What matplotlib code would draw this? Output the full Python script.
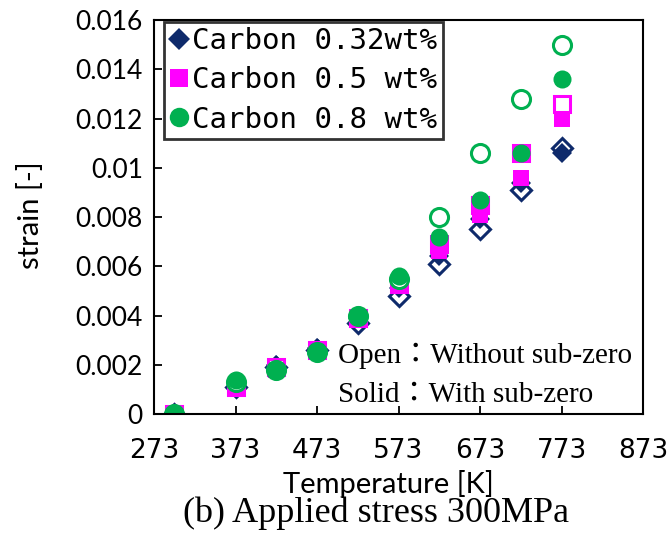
import numpy as np
import matplotlib.pyplot as plt
from matplotlib.lines import Line2D

temps = [298, 373, 423, 473, 523, 573, 623, 673, 723, 773]

# strain [-], open = without sub-zero, solid = with sub-zero
c032_open = [0, 0.0011, 0.0019, 0.0026, 0.0037, 0.0048, 0.0061, 0.0075, 0.0091, 0.0108]
c032_solid = [0, 0.0011, 0.0020, 0.0027, 0.0039, 0.0051, 0.0064, 0.0079, 0.0094, 0.0106]
c05_open = [0, 0.0011, 0.0019, 0.0026, 0.0039, 0.0053, 0.0069, 0.0085, 0.0106, 0.0126]
c05_solid = [0, 0.0011, 0.0018, 0.0026, 0.0038, 0.0052, 0.0066, 0.0081, 0.0096, 0.0120]
c08_open = [0, 0.0013, 0.0018, 0.0025, 0.0040, 0.0055, 0.0080, 0.0106, 0.0128, 0.0150]
c08_solid = [0, 0.0014, 0.0018, 0.0025, 0.0040, 0.0056, 0.0072, 0.0087, 0.0106, 0.0136]

labels = ['Carbon 0.32wt%', 'Carbon 0.5 wt%', 'Carbon 0.8 wt%']
xticks = [273, 373, 473, 573, 673, 773, 873]
yticks = [0, 0.002, 0.004, 0.006, 0.008, 0.01, 0.012, 0.014, 0.016]

navy = '#0E2A6B'
magenta = '#FF00FF'
green = '#00B050'

fig = plt.figure(figsize=(6.67, 5.36), dpi=100)
ax = fig.add_axes([0.231, 0.2276, 0.733, 0.735])

series = [
    (c032_open, c032_solid, 'D', 10, navy),
    (c05_open, c05_solid, 's', 11.5, magenta),
    (c08_open, c08_solid, 'o', 13, green),
]
for op, so, mk, ms, col in series:
    ax.plot(temps, op, ls='none', marker=mk, ms=ms, mfc='white', mec=col, mew=2.2)
    ax.plot(temps, so, ls='none', marker=mk, ms=ms, mfc=col, mec=col, mew=0)

ax.set_xlim(273, 873)
ax.set_ylim(0, 0.016)
ax.set_xticks(xticks)
ax.set_yticks(yticks)
ax.set_yticklabels(['%g' % v for v in yticks], family='Lato', fontsize=19)
ax.set_xticklabels([str(v) for v in xticks],
                   family=['Liberation Sans Narrow', 'DejaVu Sans'], fontsize=19)
ax.tick_params(direction='in', length=6, width=1.3)
ax.tick_params(axis='x', pad=17)
ax.tick_params(axis='y', pad=8)
for sp in ax.spines.values():
    sp.set_linewidth(1.5)

ax.set_ylabel('strain [-]', family='Lato', fontsize=21)
ax.yaxis.set_label_coords(-0.226, 0.505)

fig.text(0.582, 0.080, 'Temperature [K]', ha='center', va='baseline',
         family='Lato', fontsize=21)

handles = [
    Line2D([], [], ls='none', marker='D', ms=11, mfc=navy, mec=navy, mew=0),
    Line2D([], [], ls='none', marker='s', ms=13, mfc=magenta, mec=magenta, mew=0),
    Line2D([], [], ls='none', marker='o', ms=14, mfc=green, mec=green, mew=0),
]
leg = ax.legend(handles, labels, loc='upper left', bbox_to_anchor=(0.018, 1.0),
                prop={'family': 'DejaVu Sans Mono', 'size': 21},
                frameon=True, fancybox=False, edgecolor='black',
                handlelength=0.6, handletextpad=0.15, borderpad=0.2,
                labelspacing=0.38, borderaxespad=0.05)
leg.get_frame().set_linewidth(2)

note_font = ['Liberation Serif', 'Noto Sans CJK JP']
ax.text(0.376, 0.129, 'Open\uff1aWithout sub-zero', transform=ax.transAxes,
        va='baseline', family=note_font, fontsize=21)
ax.text(0.376, 0.030, 'Solid\uff1aWith sub-zero', transform=ax.transAxes,
        va='baseline', family=note_font, fontsize=21)

fig.text(0.563, 0.026, '(b) Applied stress 300MPa', ha='center', va='baseline',
         family='Liberation Serif', fontsize=26)

fig.savefig('out.png', dpi=100)
